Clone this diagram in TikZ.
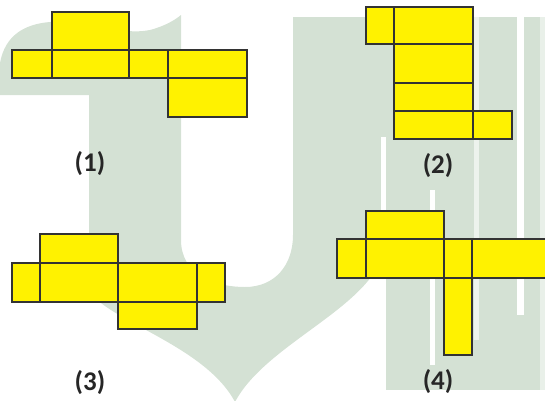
\documentclass[tikz,border=0pt]{standalone}
\usepackage{fontspec}
\setmainfont{Carlito}
\definecolor{logogreen}{RGB}{212,225,212}
\begin{document}
\begin{tikzpicture}[x=1pt,y=-1pt,
    face/.style={draw=black!80, line width=1.3pt, fill=yellow},
    stripe/.style={fill=white, draw=none},
    lbl/.style={font=\bfseries\fontsize{27}{27}\selectfont, text=black!85}]
\useasboundingbox (0,0) rectangle (545,400);
\clip (0,0) rectangle (545,400);
\fill [logogreen] (0,95) -- (0,63) .. controls (5,35) and (25,24) .. (50,22)
      .. controls (90,20) and (120,36) .. (150,30) .. controls (165,26) and (175,20) .. (181,15)
      -- (181,240) .. controls (181,275) and (215,287) .. (245,287)
      .. controls (275,287) and (293,265) .. (293,235) -- (293,17) -- (383,17) -- (383,255)
      .. controls (365,310) and (265,345) .. (235,402)
      .. controls (205,345) and (105,320) .. (89,290) -- (89,95) -- cycle;
\fill [logogreen] (383,17) rectangle (545,390);
\fill [stripe] (381,137) rectangle (386,392);
\fill [stripe] (430,190) rectangle (435,365);
\fill [stripe, opacity=0.6] (474,17) rectangle (479,340);
\fill [stripe] (517,17) rectangle (524,315);
\fill [stripe, opacity=0.5] (540,17) rectangle (545,390);
\draw [face] (52,12) rectangle (129,50);
\draw [face] (12,50) rectangle (52,78);
\draw [face] (52,50) rectangle (129,78);
\draw [face] (129,50) rectangle (168,78);
\draw [face] (168,50) rectangle (247,78);
\draw [face] (168,78) rectangle (247,117);
\draw [face] (366,7) rectangle (394,44);
\draw [face] (394,7) rectangle (473,44);
\draw [face] (394,44) rectangle (473,83);
\draw [face] (394,83) rectangle (473,111);
\draw [face] (394,111) rectangle (473,139);
\draw [face] (473,111) rectangle (512,139);
\draw [face] (40,234) rectangle (118,263);
\draw [face] (12,263) rectangle (40,302);
\draw [face] (40,263) rectangle (118,302);
\draw [face] (118,263) rectangle (197,302);
\draw [face] (197,263) rectangle (225,302);
\draw [face] (118,302) rectangle (197,329);
\draw [face] (366,211) rectangle (444,239);
\draw [face] (337,239) rectangle (366,278);
\draw [face] (366,239) rectangle (444,278);
\draw [face] (444,239) rectangle (472,278);
\draw [face] (472,239) rectangle (552,278);
\draw [face] (444,278) rectangle (472,355);
\node [lbl] (n1) at (90,164) {(1)};
\node [lbl] (n2) at (438,166) {(2)};
\node [lbl] (n3) at (90,383) {(3)};
\node [lbl] (n4) at (438,382) {(4)};
\end{tikzpicture}
\end{document}
